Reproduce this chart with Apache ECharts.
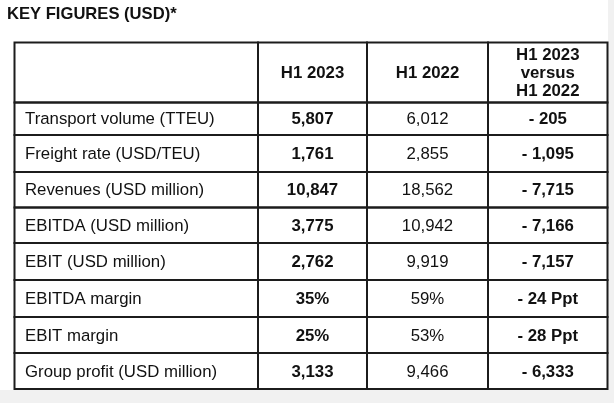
<!DOCTYPE html>
<html>
<head>
<meta charset="utf-8">
<script src="https://cdn.jsdelivr.net/npm/echarts@6/dist/echarts.min.js"></script>
<style>
  html, body { margin: 0; padding: 0; background: #f1f1f1; }
  #chart { width: 614px; height: 403px; }
</style>
</head>
<body>
<div id="chart"></div>
<script>
// ---- data ----
const titleText = 'KEY FIGURES (USD)*';
const columnHeaders = ['', 'H1 2023', 'H1 2022', 'H1 2023\nversus\nH1 2022'];
const rowLabels = [
  'Transport volume (TTEU)',
  'Freight rate (USD/TEU)',
  'Revenues (USD million)',
  'EBITDA (USD million)',
  'EBIT (USD million)',
  'EBITDA margin',
  'EBIT margin',
  'Group profit (USD million)'
];
const h1_2023 = ['5,807', '1,761', '10,847', '3,775', '2,762', '35%', '25%', '3,133'];
const h1_2022 = ['6,012', '2,855', '18,562', '10,942', '9,919', '59%', '53%', '9,466'];
const change = ['- 205', '- 1,095', '- 7,715', '- 7,166', '- 7,157', '- 24 Ppt', '- 28 Ppt', '- 6,333'];

// ---- layout (axis units = pixels inside grid) ----
const colEdges = [0, 243.5, 352.5, 473.5, 593];
const rowEdges = [0, 60, 92.5, 129.5, 165, 200.5, 237.5, 274.5, 310.5, 346.5];
const FONT = '"Liberation Sans", Arial, sans-serif';

// build cells: [col, row, text, bold]
const cells = [];
columnHeaders.forEach((h, c) => cells.push([c, 0, h, 1]));
rowLabels.forEach((lab, r) => {
  cells.push([0, r + 1, lab, 0]);
  cells.push([1, r + 1, h1_2023[r], 1]);
  cells.push([2, r + 1, h1_2022[r], 0]);
  cells.push([3, r + 1, change[r], 1]);
});

const chart = echarts.init(document.getElementById('chart'), null, { renderer: 'canvas' });
chart.setOption({
  animation: false,
  backgroundColor: '#f1f1f1',
  graphic: [
    { type: 'rect', left: 0, top: 0, shape: { x: 0, y: 0, width: 608, height: 390 }, style: { fill: '#ffffff' }, z: -10, silent: true },
    { type: 'text', left: 7, top: 6, style: { text: titleText, font: 'bold 16.6px ' + FONT, fill: '#111111' } }
  ],
  grid: { left: 14.5, top: 42.5, width: 593, height: 346.5, containLabel: false },
  xAxis: { type: 'value', min: 0, max: 593, show: false },
  yAxis: { type: 'value', min: 0, max: 346.5, inverse: true, show: false },
  series: [{
    type: 'custom',
    coordinateSystem: 'cartesian2d',
    data: cells,
    clip: false,
    renderItem: function (params, api) {
      const c = api.value(0), r = api.value(1);
      const d = cells[params.dataIndex];
      const p0 = api.coord([colEdges[c], rowEdges[r]]);
      const p1 = api.coord([colEdges[c + 1], rowEdges[r + 1]]);
      const w = p1[0] - p0[0], h = p1[1] - p0[1];
      const tx = c === 0 ? p0[0] + 10.5 : p0[0] + w / 2;
      return {
        type: 'group',
        children: [
          { type: 'rect', shape: { x: p0[0], y: p0[1], width: w, height: h },
            style: { fill: 'none', stroke: '#1c1c1c', lineWidth: 2 } },
          { type: 'text', x: tx, y: p0[1] + h / 2 + 1,
            style: { text: d[2], fill: '#111111', align: c === 0 ? 'left' : 'center', verticalAlign: 'middle',
                     font: (d[3] ? 'bold ' : '') + '16.8px ' + FONT, lineHeight: 18 } }
        ]
      };
    }
  }]
});
</script>
</body>
</html>
